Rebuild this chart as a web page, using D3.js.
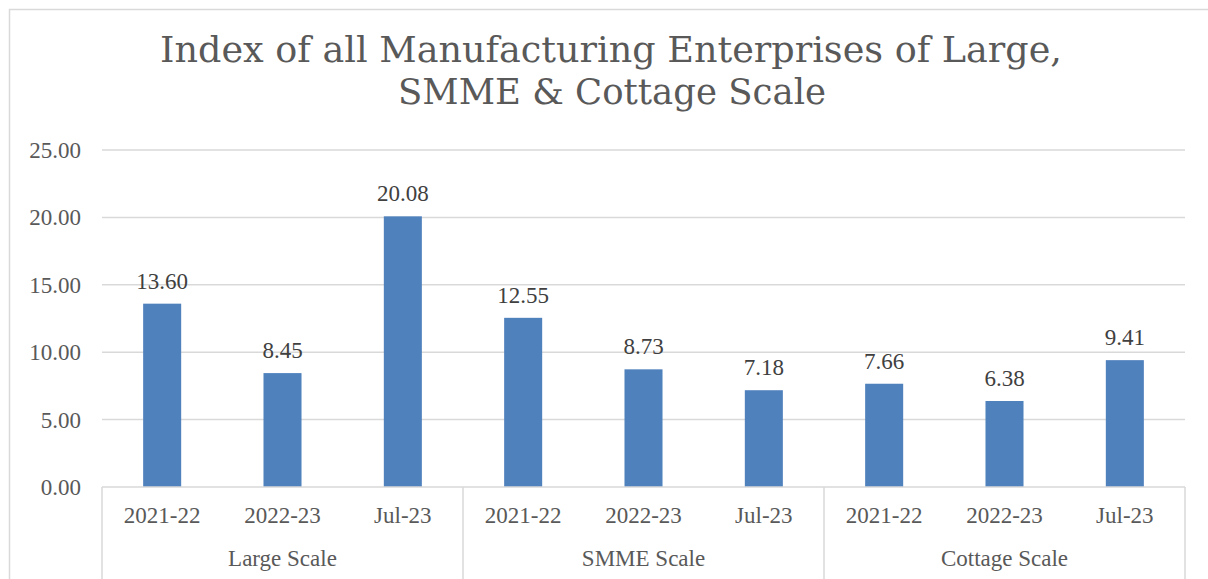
<!DOCTYPE html>
<html>
<head>
    <meta charset="utf-8">
    <title>Index of all Manufacturing Enterprises</title>
    <script src="https://d3js.org/d3.v7.min.js"></script>
    <style>
        body { margin: 0; background: #fff; }
    </style>
</head>
<body>
    <div id="chart"></div>

    <script>
        // 数据
        const groups = ["Large Scale", "SMME Scale", "Cottage Scale"];
        const periods = ["2021-22", "2022-23", "Jul-23"];
        const largeValues = [13.60, 8.45, 20.08];
        const smmeValues = [12.55, 8.73, 7.18];
        const cottageValues = [7.66, 6.38, 9.41];
        const yTicks = [0, 5, 10, 15, 20, 25];

        const seriesByGroup = [largeValues, smmeValues, cottageValues];
        const data = [];
        groups.forEach((g, gi) => {
            periods.forEach((p, pi) => {
                data.push({group: g, period: p, key: g + "|" + p, value: seriesByGroup[gi][pi]});
            });
        });

        const serif = "'Liberation Serif', 'Times New Roman', serif";
        const W = 1208, H = 579;
        const margin = {top: 150, right: 23, bottom: 92, left: 102};
        const width = W - margin.left - margin.right;
        const height = H - margin.top - margin.bottom;

        const svg = d3.select("#chart")
            .append("svg")
            .attr("width", W)
            .attr("height", H);

        // 外框
        svg.append("rect")
            .attr("x", 9.5).attr("y", 9.5)
            .attr("width", 1220).attr("height", 600)
            .attr("fill", "none")
            .attr("stroke", "#D9D9D9")
            .attr("stroke-width", 1.5);

        // 标题
        const titleLines = [
            {text: "Index of all Manufacturing Enterprises of Large,", x: 611, y: 62, len: 902},
            {text: "SMME & Cottage Scale", x: 612, y: 104, len: 428}
        ];
        svg.selectAll(".title")
            .data(titleLines)
            .enter()
            .append("text")
            .attr("class", "title")
            .attr("x", d => d.x).attr("y", d => d.y)
            .attr("text-anchor", "middle")
            .attr("textLength", d => d.len).attr("lengthAdjust", "spacingAndGlyphs")
            .style("font-family", "'DejaVu Serif', serif")
            .style("font-size", "35px")
            .style("fill", "#595959")
            .text(d => d.text);

        const g = svg.append("g")
            .attr("transform", `translate(${margin.left},${margin.top})`);

        const x = d3.scaleBand()
            .domain(data.map(d => d.key))
            .range([0, width])
            .paddingInner(0.684)
            .paddingOuter(0.342);

        const y = d3.scaleLinear()
            .domain([0, 25])
            .range([height, 0]);

        // 网格线
        g.append("g")
            .selectAll("line")
            .data(yTicks.filter(t => t > 0))
            .enter()
            .append("line")
            .attr("x1", 0).attr("x2", width)
            .attr("y1", d => y(d)).attr("y2", d => y(d))
            .attr("stroke", "#D9D9D9")
            .attr("stroke-width", 1.5);

        // y轴
        const yAxis = g.append("g")
            .call(d3.axisLeft(y).tickValues(yTicks).tickFormat(d3.format(".2f")).tickSize(0).tickPadding(21));
        yAxis.select(".domain").remove();
        yAxis.selectAll("text")
            .attr("dy", "0.33em")
            .style("font-family", serif)
            .style("font-size", "23px")
            .style("fill", "#595959");

        // 柱子
        g.selectAll(".bar")
            .data(data)
            .enter()
            .append("rect")
            .attr("class", "bar")
            .attr("x", d => x(d.key))
            .attr("y", d => y(d.value))
            .attr("width", x.bandwidth())
            .attr("height", d => height - y(d.value))
            .attr("fill", "#4F81BD");

        // 数据标签
        g.selectAll(".data-label")
            .data(data)
            .enter()
            .append("text")
            .attr("class", "data-label")
            .attr("x", d => x(d.key) + x.bandwidth() / 2)
            .attr("y", d => y(d.value) - 15)
            .attr("text-anchor", "middle")
            .style("font-family", serif)
            .style("font-size", "23px")
            .style("fill", "#404040")
            .text(d => d.value.toFixed(2));

        // x轴 (两级分类)
        const xAxis = g.append("g")
            .attr("transform", `translate(0,${height})`);

        xAxis.append("line")
            .attr("x1", 0).attr("x2", width)
            .attr("y1", 0).attr("y2", 0)
            .attr("stroke", "#D9D9D9")
            .attr("stroke-width", 1.5);

        xAxis.selectAll(".period-label")
            .data(data)
            .enter()
            .append("text")
            .attr("class", "period-label")
            .attr("x", d => x(d.key) + x.bandwidth() / 2)
            .attr("y", 36)
            .attr("text-anchor", "middle")
            .style("font-family", serif)
            .style("font-size", "23px")
            .style("fill", "#595959")
            .text(d => d.period);

        const groupStep = width / groups.length;
        xAxis.selectAll(".sep")
            .data(d3.range(groups.length + 1))
            .enter()
            .append("line")
            .attr("class", "sep")
            .attr("x1", i => i * groupStep).attr("x2", i => i * groupStep)
            .attr("y1", 0).attr("y2", 100)
            .attr("stroke", "#D9D9D9")
            .attr("stroke-width", 1.5);

        xAxis.selectAll(".group-label")
            .data(groups)
            .enter()
            .append("text")
            .attr("class", "group-label")
            .attr("x", (d, i) => (i + 0.5) * groupStep)
            .attr("y", 79)
            .attr("text-anchor", "middle")
            .style("font-family", serif)
            .style("font-size", "23px")
            .style("fill", "#595959")
            .text(d => d);
    </script>
</body>
</html>
